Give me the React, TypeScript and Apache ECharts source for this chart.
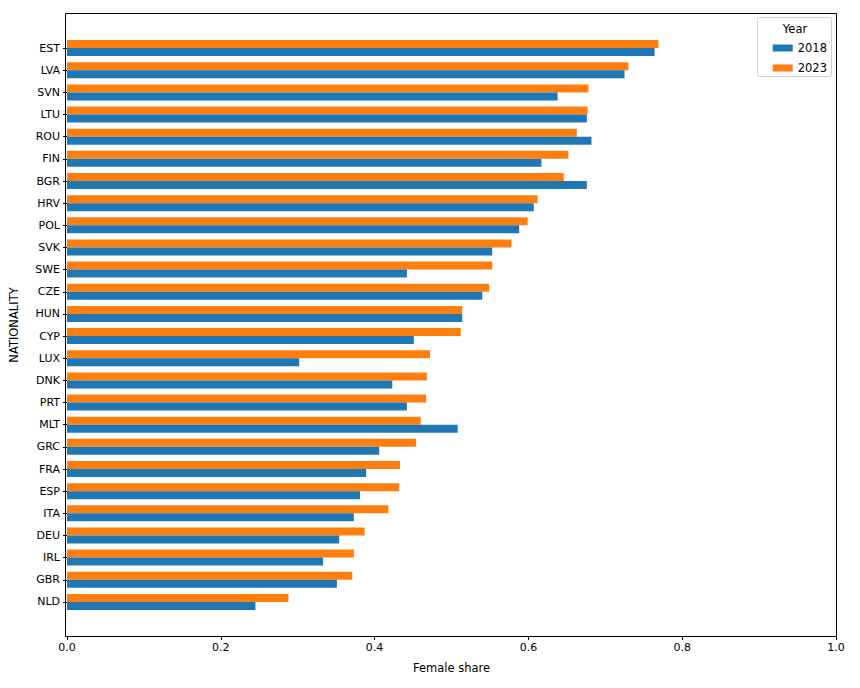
import React, { useEffect, useRef } from "react";
import * as echarts from "echarts";

const categories = ["EST","LVA","SVN","LTU","ROU","FIN","BGR","HRV","POL","SVK","SWE","CZE","HUN","CYP","LUX","DNK","PRT","MLT","GRC","FRA","ESP","ITA","DEU","IRL","GBR","NLD"];
const values2018 = [0.764,0.725,0.638,0.676,0.682,0.617,0.676,0.607,0.588,0.553,0.442,0.540,0.514,0.451,0.302,0.423,0.442,0.508,0.406,0.389,0.381,0.373,0.354,0.333,0.351,0.245];
const values2023 = [0.769,0.730,0.678,0.677,0.663,0.652,0.646,0.612,0.599,0.578,0.553,0.549,0.514,0.512,0.472,0.468,0.467,0.460,0.454,0.433,0.432,0.418,0.387,0.373,0.371,0.288];
const xTicks = [0, 0.2, 0.4, 0.6, 0.8, 1.0];

const FONT = "DejaVu Sans";

export default function App() {
  const ref = useRef<HTMLDivElement>(null);
  useEffect(() => {
    document.body.style.margin = "0";
    if (!ref.current) return;
    const chart = echarts.init(ref.current, null, { renderer: "svg" });
    chart.setOption({
      animation: false,
      backgroundColor: "#ffffff",
      textStyle: { fontFamily: FONT },
      grid: { left: 65, right: 24, top: 37, bottom: 75, containLabel: false },
      xAxis: {
        type: "value",
        min: xTicks[0],
        max: xTicks[xTicks.length - 1],
        interval: 0.2,
        offset: 23,
        name: "Female share",
        nameLocation: "middle",
        nameGap: 26,
        nameTextStyle: { color: "#000", fontSize: 11.5, fontFamily: FONT },
        axisLine: { show: false },
        axisTick: { show: true, length: 4, lineStyle: { color: "#000" } },
        axisLabel: { color: "#000", fontSize: 11, fontFamily: FONT, margin: 6, formatter: (v: number) => v.toFixed(1) },
        splitLine: { show: false },
      },
      yAxis: {
        type: "category",
        data: categories,
        inverse: true,
        name: "NATIONALITY",
        nameLocation: "middle",
        nameRotate: 90,
        nameGap: 47,
        nameTextStyle: { color: "#000", fontSize: 11.5, fontFamily: FONT },
        axisLine: { show: false },
        axisTick: { show: true, length: 4, alignWithLabel: true, lineStyle: { color: "#000" } },
        axisLabel: { color: "#000", fontSize: 11, fontFamily: FONT, margin: 7 },
      },
      legend: {
        orient: "vertical",
        right: 28,
        top: 37,
        icon: "rect",
        itemWidth: 20,
        itemHeight: 7,
        itemGap: 8,
        textStyle: { color: "#000", fontSize: 11.5, fontFamily: FONT },
        data: ["2018", "2023"],
      },
      graphic: [
        {
          type: "rect",
          shape: { x: 65.5, y: 13.5, width: 771, height: 623 },
          style: { fill: "none", stroke: "#000", lineWidth: 1 },
          silent: true,
          z: 10,
        },
        {
          type: "rect",
          shape: { x: 757.5, y: 17.5, width: 74, height: 59, r: 2 },
          style: { fill: "rgba(255,255,255,0.8)", stroke: "#d0d0d0", lineWidth: 1 },
          silent: true,
          z: 1,
        },
        {
          type: "text",
          x: 795,
          y: 29,
          style: { text: "Year", fill: "#000", fontSize: 11.5, fontFamily: FONT, align: "center", verticalAlign: "middle" },
          z: 11,
        },
      ],
      series: [
        {
          name: "2023",
          type: "bar",
          data: values2023,
          barWidth: 8,
          barGap: "0%",
          itemStyle: { color: "#ff7f0e" },
        },
        {
          name: "2018",
          type: "bar",
          data: values2018,
          barWidth: 8,
          barGap: "0%",
          itemStyle: { color: "#1f77b4" },
        },
      ],
    });
    return () => chart.dispose();
  }, []);
  return <div ref={ref} style={{ width: 860, height: 688 }} />;
}
